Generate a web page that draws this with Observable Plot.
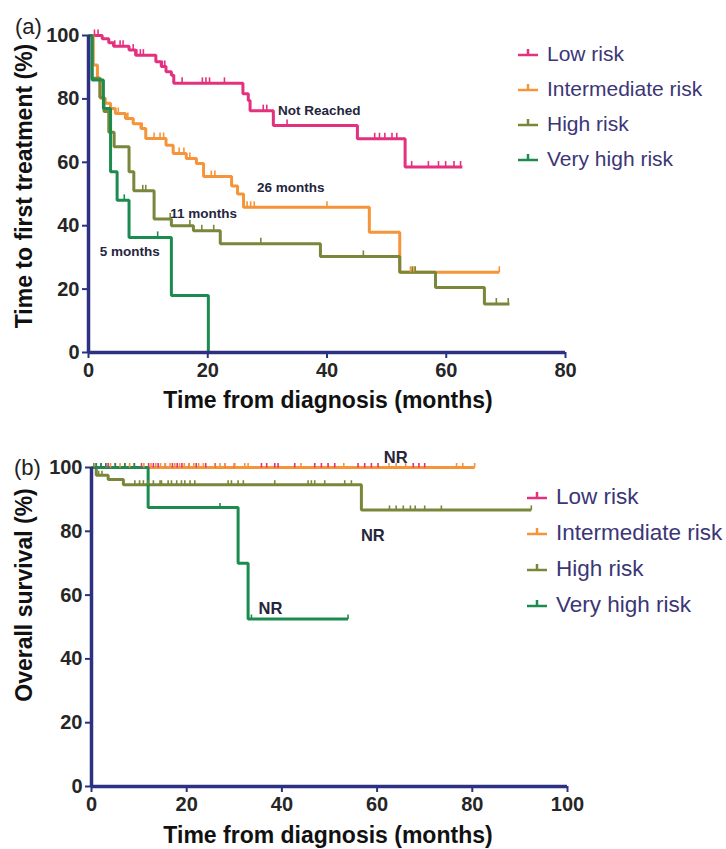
<!DOCTYPE html>
<html><head><meta charset="utf-8">
<script src="https://cdn.jsdelivr.net/npm/d3@7"></script>
<script src="https://cdn.jsdelivr.net/npm/@observablehq/plot@0.6"></script>
<style>
body{margin:0;background:#fff;}
#wrap{position:relative;width:726px;height:849px;overflow:hidden;background:#fff;}
#wrap svg{position:absolute;left:0;}
</style></head><body><div id="wrap"></div>
<script>
// ---------- data ----------
const groups = ["Low risk", "Intermediate risk", "High risk", "Very high risk"];

// (a) Time to first treatment (%): step times (months) and values
const ttftLowT  = [0, 2.3, 3.4, 4.2, 6.8, 7.9, 11.3, 12.2, 13.0, 13.9, 14.3, 25.9, 26.8, 27.1, 31.0, 45.1, 53.1];
const ttftLowV  = [100, 99, 97.7, 96.6, 95.4, 93.8, 91.7, 90.2, 88.6, 87.5, 84.9, 81.6, 79.5, 76.3, 71.6, 67.4, 58.5];
const ttftLowEnd = 62.7;
const ttftLowCens = [1.0, 1.6, 4.4, 5.3, 5.8, 7.5, 8.1, 8.7, 9.2, 12.4, 12.8, 15.7, 19.1, 19.7, 20.3, 22.8, 29.3, 29.9, 33.3, 48.0, 48.8, 49.7, 50.9, 51.7, 54.2, 57.0, 58.7, 59.9, 61.3, 62.4];

const ttftIntT  = [0, 0.8, 1.5, 2.0, 2.8, 3.7, 4.5, 6.2, 7.5, 8.8, 9.6, 13.0, 14.2, 16.4, 18.1, 19.3, 24.0, 25.0, 26.0, 47.1, 52.2];
const ttftIntV  = [100, 90.7, 86.5, 80.2, 78.6, 77.0, 75.4, 73.8, 72.2, 70.7, 67.5, 65.4, 62.8, 61.2, 59.6, 55.5, 52.5, 50.0, 45.8, 37.9, 25.3];
const ttftIntEnd = 68.9;
const ttftIntCens = [5.0, 6.6, 9.0, 11.0, 12.0, 12.6, 15.2, 16.0, 17.0, 20.6, 21.2, 26.6, 27.2, 27.8, 40.0, 54.0, 54.6, 68.9];

const ttftHighT = [0, 0.6, 1.9, 2.6, 3.4, 4.3, 6.8, 7.6, 11.0, 13.9, 17.6, 22.1, 38.9, 52.2, 58.2, 66.4];
const ttftHighV = [100, 86.5, 80.5, 76.0, 69.5, 64.9, 57.0, 51.0, 42.1, 40.0, 38.4, 34.3, 30.3, 25.3, 20.5, 15.3];
const ttftHighEnd = 70.6;
const ttftHighCens = [9.1, 9.6, 13.7, 17.0, 19.0, 21.0, 28.9, 46.1, 54.3, 54.8, 68.4, 70.4];

const ttftVhighT = [0, 0.6, 2.5, 3.7, 4.8, 6.8, 13.9, 20.1];
const ttftVhighV = [100, 86.0, 77.0, 57.0, 48.0, 36.3, 18.0, 0];
const ttftVhighEnd = 20.1;
const ttftVhighCens = [6.0, 11.6];

const ttftNotes = ["Not Reached", "26 months", "11 months", "5 months"];
const ttftNoteT = [38.7, 33.9, 19.3, 6.9];
const ttftNoteV = [76.3, 52.0, 43.8, 31.9];

// (b) Overall survival (%)
const osLowT = [0];  const osLowV = [100]; const osLowEnd = 70.0;
const osLowCens = [1, 2, 3.5, 5, 7, 9, 10.5, 12, 13, 14, 15.5, 17, 18, 19, 20.5, 22, 24, 26, 28, 30, 35.7, 36.8, 38.5, 39.2, 42.7, 46.9, 48.3, 49.7, 51.1, 56.0, 57.4, 58.8, 60.2, 67.6, 68.8, 70.0];
const osIntT = [0];  const osIntV = [100]; const osIntEnd = 80.5;
const osIntCens = [3, 4, 6, 8, 11, 12.5, 13.5, 14.5, 15.5, 16.5, 17.5, 18.5, 19.5, 20.5, 21.5, 22.5, 23.5, 25.9, 27, 28, 30.1, 32.2, 32.9, 44, 53, 62.5, 64, 66, 76.7, 78, 80.5];
const osHighT = [0, 1.0, 3.5, 6.7, 56.7];
const osHighV = [100, 97.6, 96.2, 94.6, 86.7];
const osHighEnd = 92.4;
const osHighCens = [0.5, 1.5, 2.2, 9.1, 10.1, 10.9, 11.9, 13.0, 14.4, 14.7, 16.1, 16.8, 17.9, 18.9, 19.6, 20.7, 21.7, 28.7, 29.4, 30.8, 31.9, 38.5, 45.5, 46.2, 46.9, 49.0, 53.2, 54.6, 62.6, 64.0, 65.5, 67.0, 68.0, 70.0, 73.5, 92.4];
const osVhighT = [0, 11.9, 30.8, 32.9];
const osVhighV = [100, 87.5, 70.0, 52.5];
const osVhighEnd = 53.9;
const osVhighCens = [1, 2, 3, 5, 7, 9, 27.0, 33.6, 53.9];

const osNotes = ["NR", "NR", "NR"];
const osNoteT = [63.9, 59.1, 37.6];
const osNoteV = [103.1, 78.7, 55.8];

const yTicks = [0, 20, 40, 60, 80, 100];
const xTicksA = [0, 20, 40, 60, 80];
const xTicksB = [0, 20, 40, 60, 80, 100];

// ---------- styling ----------
const colors = ["#e3307f", "#f6943a", "#78873a", "#1c8b4f"];
const navy = "#2d3181";
const fontFam = "'Liberation Sans', Arial, Helvetica, sans-serif";

// ---------- helpers ----------
function steps(g, ts, vs, end) {
  const rows = ts.map((t, i) => ({g, t, v: vs[i]}));
  rows.push({g, t: end, v: vs[vs.length - 1]});
  return rows;
}
function valAt(ts, vs, t) {
  let v = vs[0];
  for (let i = 0; i < ts.length; i++) if (ts[i] <= t) v = vs[i];
  return v;
}
function cens(g, ts, vs, cs) { return cs.map(t => ({g, t, v: valAt(ts, vs, t)})); }
function notes(labels, ts, vs) { return labels.map((label, i) => ({label, t: ts[i], v: vs[i]})); }
function tickSym(h) { return {draw(ctx) { ctx.moveTo(0, 0); ctx.lineTo(0, -h); }}; }

const rowsA = [
  ...steps(groups[0], ttftLowT, ttftLowV, ttftLowEnd),
  ...steps(groups[1], ttftIntT, ttftIntV, ttftIntEnd),
  ...steps(groups[2], ttftHighT, ttftHighV, ttftHighEnd),
  ...steps(groups[3], ttftVhighT, ttftVhighV, ttftVhighEnd)
];
const censA = [
  ...cens(groups[0], ttftLowT, ttftLowV, ttftLowCens),
  ...cens(groups[1], ttftIntT, ttftIntV, ttftIntCens),
  ...cens(groups[2], ttftHighT, ttftHighV, ttftHighCens),
  ...cens(groups[3], ttftVhighT, ttftVhighV, ttftVhighCens)
];
const rowsB = [
  ...steps(groups[0], osLowT, osLowV, osLowEnd),
  ...steps(groups[1], osIntT, osIntV, osIntEnd),
  ...steps(groups[2], osHighT, osHighV, osHighEnd),
  ...steps(groups[3], osVhighT, osVhighV, osVhighEnd)
];
const censB = [
  ...cens(groups[0], osLowT, osLowV, osLowCens),
  ...cens(groups[1], osIntT, osIntV, osIntCens),
  ...cens(groups[2], osHighT, osHighV, osHighCens),
  ...cens(groups[3], osVhighT, osVhighV, osVhighCens)
];

function panel(cfg) {
  const axisCommon = {tickSize: 6, stroke: navy, strokeWidth: 2, fill: "#262626",
    fontSize: 20, fontWeight: "bold", fontFamily: fontFam, label: null};
  const svg = Plot.plot({
    width: 726, height: cfg.height,
    marginLeft: cfg.ml, marginRight: cfg.mr, marginTop: cfg.mt, marginBottom: cfg.mb,
    x: {domain: [0, cfg.xmax]},
    y: {domain: [0, 100]},
    color: {domain: groups, range: colors},
    style: {fontFamily: fontFam, background: "transparent", overflow: "visible"},
    marks: [
      Plot.axisX({...axisCommon, ticks: cfg.xticks, tickPadding: 4}),
      Plot.axisY({...axisCommon, ticks: yTicks, tickPadding: 3}),
      Plot.line(cfg.rows, {x: "t", y: "v", z: "g", stroke: "g", curve: "step-after",
        strokeWidth: 3, strokeLinejoin: "miter", strokeLinecap: "butt"}),
      Plot.dot(cfg.cens, {x: "t", y: "v", stroke: "g", symbol: tickSym(cfg.tickH),
        fill: "none", strokeWidth: 1.6}),
      Plot.ruleX([0], {y1: 0, y2: 100, stroke: navy, strokeWidth: 3.5}),
      Plot.ruleY([0], {x1: 0, x2: cfg.xmax, stroke: navy, strokeWidth: 3.5}),
      Plot.text(cfg.notes, {x: "t", y: "v", text: "label", fontSize: cfg.noteSize,
        fontWeight: "bold", fill: "#25253d", fontFamily: fontFam})
    ]
  });
  svg.style.top = cfg.top + "px";
  const s = d3.select(svg);
  // panel label
  s.append("text").attr("x", cfg.tagX).attr("y", cfg.tagY).text(cfg.tag)
    .attr("text-anchor", "start")
    .attr("font-size", 22).attr("font-family", fontFam).attr("fill", "#222");
  // axis titles
  s.append("text").attr("x", cfg.xtX).attr("y", cfg.xtY).attr("text-anchor", "middle")
    .attr("font-size", 23).attr("font-weight", "bold").attr("font-family", fontFam)
    .attr("fill", "#111").text(cfg.xTitle);
  s.append("text").attr("transform", `translate(${cfg.ytX},${cfg.ytY}) rotate(-90)`)
    .attr("text-anchor", "middle")
    .attr("font-size", 23).attr("font-weight", "bold").attr("font-family", fontFam)
    .attr("fill", "#111").text(cfg.yTitle);
  // legend
  const lg = s.append("g");
  groups.forEach((g, i) => {
    const by = cfg.legY + i * cfg.legDy;
    const ly = by - 6;
    lg.append("line").attr("x1", cfg.legX).attr("x2", cfg.legX + 20).attr("y1", ly).attr("y2", ly)
      .attr("stroke", colors[i]).attr("stroke-width", 2.5);
    lg.append("line").attr("x1", cfg.legX + 10).attr("x2", cfg.legX + 10).attr("y1", ly).attr("y2", ly - 6)
      .attr("stroke", colors[i]).attr("stroke-width", 2.5);
    lg.append("text").attr("x", cfg.legX + 29).attr("y", by).text(g)
      .attr("text-anchor", "start")
      .attr("font-size", cfg.legSize).attr("font-family", fontFam).attr("fill", "#3b3676");
  });
  document.getElementById("wrap").appendChild(svg);
}

panel({
  top: 0, height: 425, ml: 88, mr: 161, mt: 35, mb: 73, xmax: 80, xticks: xTicksA,
  rows: rowsA, cens: censA, tickH: 6, notes: notes(ttftNotes, ttftNoteT, ttftNoteV), noteSize: 13.5,
  tag: "(a)", tagX: 15, tagY: 34,
  xTitle: "Time from diagnosis (months)", xtX: 328, xtY: 408,
  yTitle: "Time to first treatment (%)", ytX: 32, ytY: 186,
  legX: 518, legY: 61, legDy: 35, legSize: 21
});
panel({
  top: 425, height: 424, ml: 91, mr: 159, mt: 42, mb: 63, xmax: 100, xticks: xTicksB,
  rows: rowsB, cens: censB, tickH: 4.5, notes: notes(osNotes, osNoteT, osNoteV), noteSize: 16.5,
  tag: "(b)", tagX: 14, tagY: 50,
  xTitle: "Time from diagnosis (months)", xtX: 328, xtY: 418,
  yTitle: "Overall survival (%)", ytX: 32, ytY: 170,
  legX: 527, legY: 79, legDy: 36, legSize: 22.5
});
</script></body></html>
